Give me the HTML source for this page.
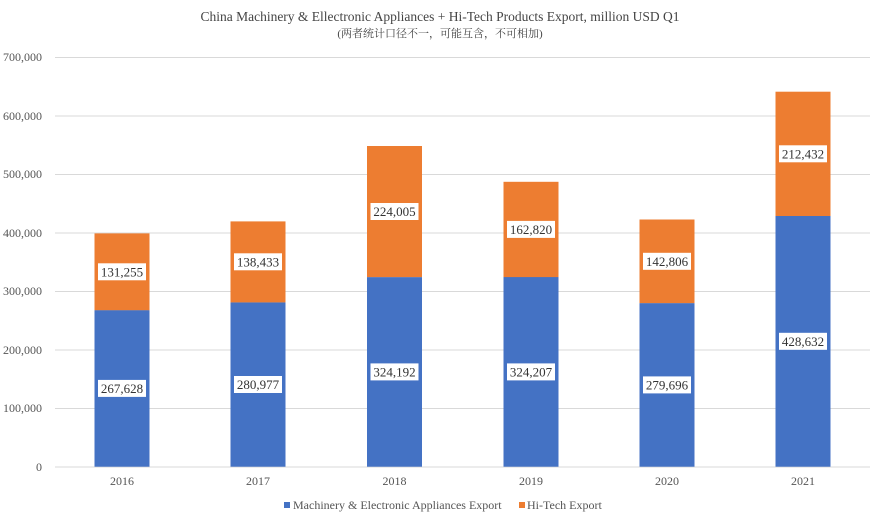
<!DOCTYPE html>
<html><head><meta charset="utf-8"><style>
body{margin:0;background:#fff;}
svg{display:block;font-family:"Liberation Serif","Noto Serif CJK SC",serif;}
</style></head><body>
<svg width="880" height="524" viewBox="0 0 880 524" xmlns="http://www.w3.org/2000/svg">
<rect width="880" height="524" fill="#fff"/>
<text x="440" y="21" text-anchor="middle" font-size="13.5" fill="#444">China Machinery &amp; Ellectronic Appliances + Hi-Tech Products Export, million USD Q1</text>
<text x="440" y="37" text-anchor="middle" font-size="11" fill="#444">(两者统计口径不一，可能互含，不可相加)</text>
<g stroke="#d9d9d9" stroke-width="1">
<line x1="55" x2="870" y1="57.5" y2="57.5"/>
<line x1="55" x2="870" y1="116" y2="116"/>
<line x1="55" x2="870" y1="174.5" y2="174.5"/>
<line x1="55" x2="870" y1="233" y2="233"/>
<line x1="55" x2="870" y1="291.5" y2="291.5"/>
<line x1="55" x2="870" y1="350" y2="350"/>
<line x1="55" x2="870" y1="408.5" y2="408.5"/>
<line x1="55" x2="870" y1="467" y2="467"/>
</g>
<g font-size="12" fill="#555" text-anchor="end">
<text x="42" y="61">700,000</text>
<text x="42" y="120">600,000</text>
<text x="42" y="178">500,000</text>
<text x="42" y="237">400,000</text>
<text x="42" y="295">300,000</text>
<text x="42" y="354">200,000</text>
<text x="42" y="412">100,000</text>
<text x="42" y="471">0</text>
</g>
<g>
<rect x="94.5" y="310.1" width="55" height="156.6" fill="#4472C4"/>
<rect x="94.5" y="233.4" width="55" height="76.8" fill="#ED7D31"/>
<rect x="230.5" y="302.3" width="55" height="164.4" fill="#4472C4"/>
<rect x="230.5" y="221.4" width="55" height="81" fill="#ED7D31"/>
<rect x="367" y="277.1" width="55" height="189.6" fill="#4472C4"/>
<rect x="367" y="146" width="55" height="131.1" fill="#ED7D31"/>
<rect x="503.5" y="277" width="55" height="189.7" fill="#4472C4"/>
<rect x="503.5" y="181.8" width="55" height="95.3" fill="#ED7D31"/>
<rect x="639.5" y="303.1" width="55" height="163.6" fill="#4472C4"/>
<rect x="639.5" y="219.5" width="55" height="83.6" fill="#ED7D31"/>
<rect x="775.5" y="216" width="55" height="250.7" fill="#4472C4"/>
<rect x="775.5" y="91.7" width="55" height="124.3" fill="#ED7D31"/>
</g>
<g fill="#fff">
<rect x="98" y="379.9" width="48" height="17"/>
<rect x="98" y="263.3" width="48" height="17"/>
<rect x="234" y="376" width="48" height="17"/>
<rect x="234" y="253.3" width="48" height="17"/>
<rect x="370.5" y="363.4" width="48" height="17"/>
<rect x="370.5" y="203" width="48" height="17"/>
<rect x="507" y="363.4" width="48" height="17"/>
<rect x="507" y="220.9" width="48" height="17"/>
<rect x="643" y="376.4" width="48" height="17"/>
<rect x="643" y="252.8" width="48" height="17"/>
<rect x="779" y="332.8" width="48" height="17"/>
<rect x="779" y="145.3" width="48" height="17"/>
</g>
<g font-size="13" fill="#333" text-anchor="middle">
<text x="122" y="392.9">267,628</text>
<text x="122" y="276.3">131,255</text>
<text x="258" y="389">280,977</text>
<text x="258" y="266.3">138,433</text>
<text x="394.5" y="376.4">324,192</text>
<text x="394.5" y="216">224,005</text>
<text x="531" y="376.4">324,207</text>
<text x="531" y="233.9">162,820</text>
<text x="667" y="389.4">279,696</text>
<text x="667" y="265.8">142,806</text>
<text x="803" y="345.8">428,632</text>
<text x="803" y="158.3">212,432</text>
</g>
<g font-size="12" fill="#555" text-anchor="middle">
<text x="122" y="485">2016</text>
<text x="258" y="485">2017</text>
<text x="394.5" y="485">2018</text>
<text x="531" y="485">2019</text>
<text x="667" y="485">2020</text>
<text x="803" y="485">2021</text>
</g>
<rect x="284" y="502" width="6" height="6" fill="#4472C4"/>
<text x="293" y="509" font-size="12" fill="#555">Machinery &amp; Electronic Appliances Export</text>
<rect x="519" y="502" width="6" height="6" fill="#ED7D31"/>
<text x="527" y="509" font-size="12" fill="#555">Hi-Tech Export</text>
</svg>
</body></html>
